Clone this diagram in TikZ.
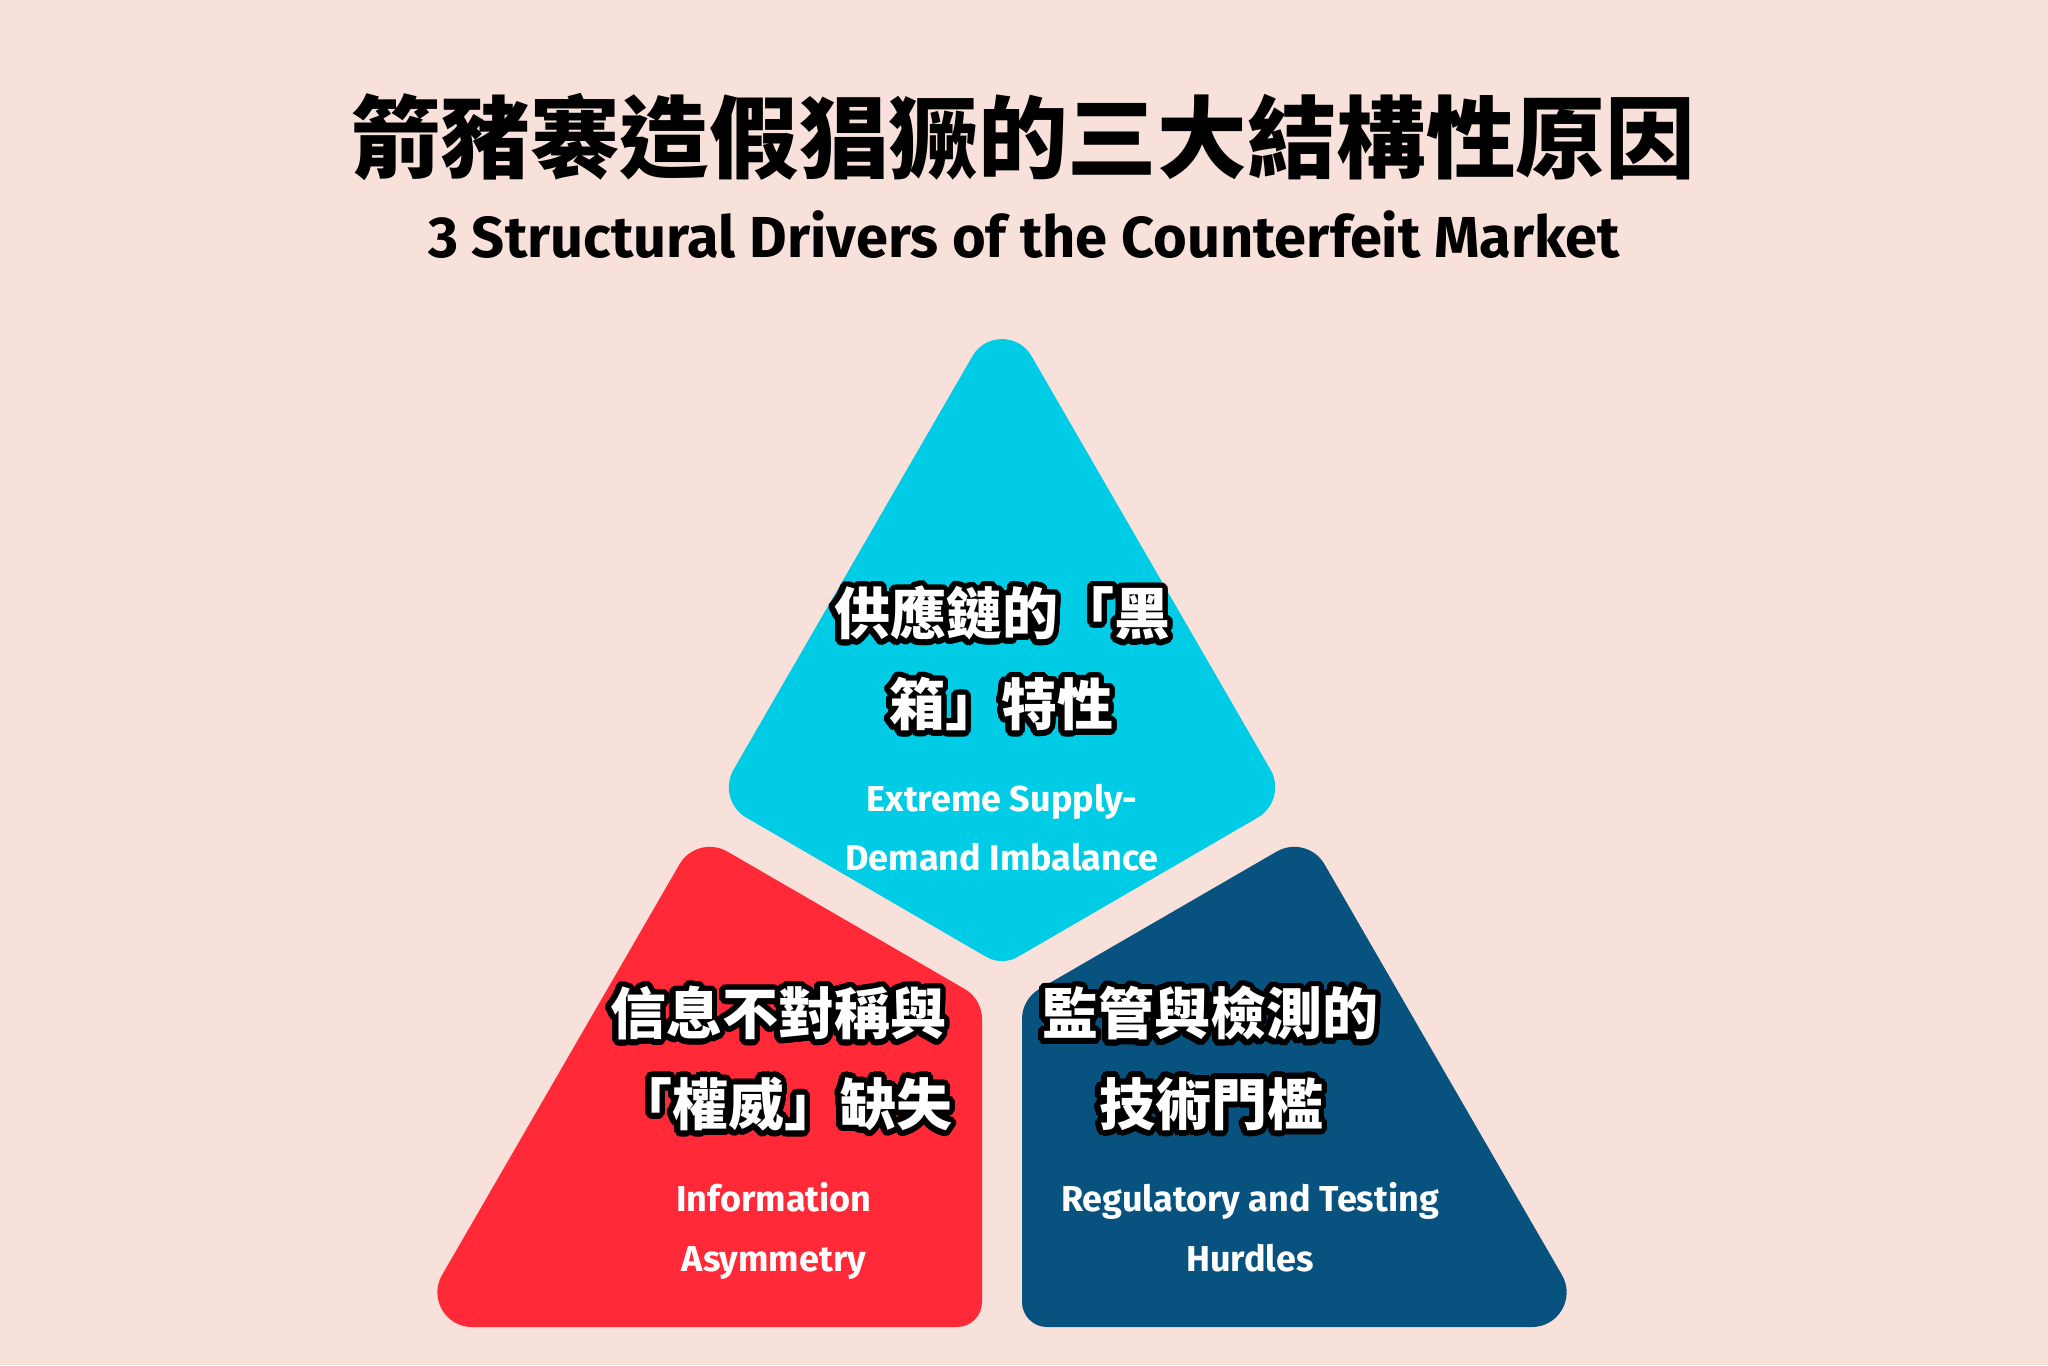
\documentclass[tikz,border=0pt]{standalone}
\usepackage{fontspec}
\usepackage{contour}
\usetikzlibrary{calc}
\setsansfont{Fira Sans}
\newfontfamily\cjk{Noto Sans CJK TC}
\definecolor{bgc}{HTML}{F7E1DA}
\definecolor{cyanc}{HTML}{00CCE6}
\definecolor{redc}{HTML}{FF2938}
\definecolor{bluec}{HTML}{07527F}
\contourlength{2.8pt}
\contournumber{32}
\begin{document}
\begin{tikzpicture}[x=0.5pt,y=-0.5pt,
  cjklab/.style={font=\cjk\bfseries\fontsize{28}{34}\selectfont, text=white, inner sep=0pt},
  enlab/.style={font=\sffamily\bfseries\fontsize{18}{22}\selectfont, text=white, inner sep=0pt, anchor=base},
  titlelab/.style={font=\cjk\bfseries\fontsize{44.8}{54}\selectfont, text=black, inner sep=0pt},
  sublab/.style={font=\sffamily\bfseries\fontsize{28.9}{34}\selectfont, text=black, inner sep=0pt, anchor=base}]
\fill[bgc] (0,0) rectangle (2048,1365);
\useasboundingbox (0,0) rectangle (2048,1365);
% vertices
\coordinate (CA) at (1002,305);
\coordinate (CL) at (716,800);
\coordinate (CB) at (1002,966);
\coordinate (CR) at (1288,800);
\coordinate (RA) at (697,834);
\coordinate (RT) at (982,999);
\coordinate (RBR) at (982,1327);
\coordinate (RBL) at (412,1327);
\coordinate (BA) at (1307,834);
\coordinate (BT) at (1022,999);
\coordinate (BBL) at (1022,1327);
\coordinate (BBR) at (1592,1327);
% cyan kite
\fill[cyanc] ($(CA)!29.5pt!(CL)$) -- ($(CL)!17.5pt!(CA)$)
  .. controls ($(CL)!7.84pt!(CA)$) and ($(CL)!7.84pt!(CB)$) .. ($(CL)!17.5pt!(CB)$)
  -- ($(CB)!9.25pt!(CL)$)
  .. controls ($(CB)!3.52pt!(CL)$) and ($(CB)!3.52pt!(CR)$) .. ($(CB)!9.25pt!(CR)$)
  -- ($(CR)!17.5pt!(CB)$)
  .. controls ($(CR)!7.84pt!(CB)$) and ($(CR)!7.84pt!(CA)$) .. ($(CR)!17.5pt!(CA)$)
  -- ($(CA)!29.5pt!(CR)$)
  .. controls ($(CA)!16.4pt!(CR)$) and ($(CA)!16.4pt!(CL)$) .. cycle;
% red pentagon
\fill[redc] ($(RA)!17.5pt!(RT)$) -- ($(RT)!10pt!(RA)$)
  .. controls ($(RT)!3.81pt!(RA)$) and ($(RT)!3.81pt!(RBR)$) .. ($(RT)!10pt!(RBR)$)
  -- ($(RBR)!12.5pt!(RT)$)
  .. controls ($(RBR)!5.6pt!(RT)$) and ($(RBR)!5.6pt!(RBL)$) .. ($(RBR)!12.5pt!(RBL)$)
  -- ($(RBL)!30pt!(RBR)$)
  .. controls ($(RBL)!16.7pt!(RBR)$) and ($(RBL)!16.7pt!(RA)$) .. ($(RBL)!30pt!(RA)$)
  -- ($(RA)!17.5pt!(RBL)$)
  .. controls ($(RA)!7.84pt!(RBL)$) and ($(RA)!7.84pt!(RT)$) .. cycle;
% blue pentagon
\fill[bluec] ($(BA)!17.5pt!(BT)$) -- ($(BT)!10pt!(BA)$)
  .. controls ($(BT)!3.81pt!(BA)$) and ($(BT)!3.81pt!(BBL)$) .. ($(BT)!10pt!(BBL)$)
  -- ($(BBL)!12.5pt!(BT)$)
  .. controls ($(BBL)!5.6pt!(BT)$) and ($(BBL)!5.6pt!(BBR)$) .. ($(BBL)!12.5pt!(BBR)$)
  -- ($(BBR)!30pt!(BBL)$)
  .. controls ($(BBR)!16.7pt!(BBL)$) and ($(BBR)!16.7pt!(BA)$) .. ($(BBR)!30pt!(BA)$)
  -- ($(BA)!17.5pt!(BBR)$)
  .. controls ($(BA)!7.84pt!(BBR)$) and ($(BA)!7.84pt!(BT)$) .. cycle;
% titles
\node[titlelab] (title) at (1023,137) {箭豬褰造假猖獗的三大結構性原因};
\node[sublab] (subtitle) at (1024,257) {3 Structural Drivers of the Counterfeit Market};
% cyan texts
\node[cjklab] (c1) at (1002,616) {\contour{black}{供應鏈的「黑}};
\node[cjklab] (c2) at (1001,707) {\contour{black}{箱」特性}};
\node[enlab] (ce1) at (1002,811) {Extreme Supply-};
\node[enlab] (ce2) at (1002,870) {Demand Imbalance};
% red texts
\node[cjklab] (r1) at (778,1016) {\contour{black}{信息不對稱與}};
\node[cjklab] (r2) at (784,1107) {\contour{black}{「權威」缺失}};
\node[enlab] (re1) at (774,1211) {Information};
\node[enlab] (re2) at (774,1271) {Asymmetry};
% blue texts
\node[cjklab] (b1) at (1210,1016) {\contour{black}{監管與檢測的}};
\node[cjklab] (b2) at (1211,1107) {\contour{black}{技術門檻}};
\node[enlab] (be1) at (1250,1211) {Regulatory and Testing};
\node[enlab] (be2) at (1250,1271) {Hurdles};
\end{tikzpicture}
\end{document}
